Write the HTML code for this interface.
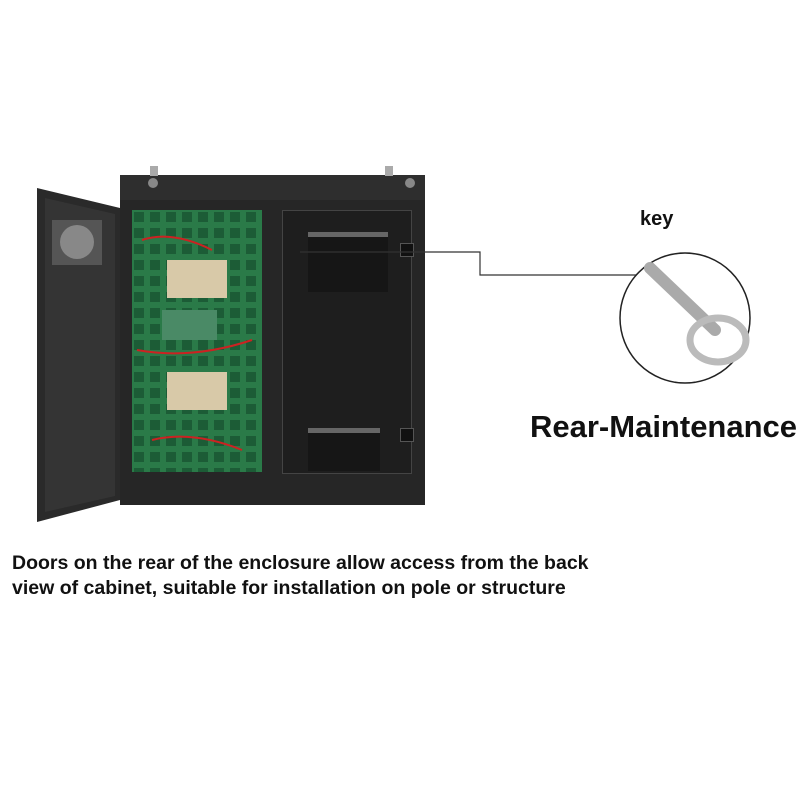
<!DOCTYPE html>
<html><head><meta charset="utf-8"><style>
body{margin:0;width:800px;height:800px;background:#fff;position:relative;overflow:hidden;font-family:"Liberation Sans",sans-serif}
.a{position:absolute}
</style></head><body>
<div class="a" style="left:120px;top:175px;width:305px;height:25px;background:#2e2e2e"></div>
<div class="a" style="left:148px;top:178px;width:10px;height:10px;border-radius:50%;background:#888"></div>
<div class="a" style="left:405px;top:178px;width:10px;height:10px;border-radius:50%;background:#888"></div>
<div class="a" style="left:150px;top:166px;width:8px;height:10px;background:#aaa"></div>
<div class="a" style="left:385px;top:166px;width:8px;height:10px;background:#aaa"></div>
<div class="a" style="left:120px;top:200px;width:305px;height:305px;background:#262626"></div>
<div class="a" style="left:132px;top:210px;width:130px;height:262px;background:#1f5a3a"></div>
<svg class="a" style="left:132px;top:210px" width="130" height="262">
<defs><pattern id="g" width="16" height="16" patternUnits="userSpaceOnUse"><rect width="16" height="16" fill="#2a7a48"/><rect x="2" y="2" width="10" height="10" fill="#1c5c36"/></pattern></defs>
<rect width="130" height="262" fill="url(#g)"/>
<rect x="35" y="50" width="60" height="38" fill="#d8c9a8"/>
<rect x="35" y="162" width="60" height="38" fill="#d8c9a8"/>
<rect x="30" y="100" width="55" height="30" fill="#4a8a66"/>
<path d="M10 30 Q40 20 80 40 M5 140 Q60 150 120 130 M20 230 Q60 220 110 240" stroke="#c22" stroke-width="2" fill="none"/>
</svg>
<div class="a" style="left:282px;top:210px;width:128px;height:262px;background:#1e1e1e;border:1px solid #444"></div>
<div class="a" style="left:308px;top:232px;width:80px;height:55px;background:#161616;border-top:5px solid #666"></div>
<div class="a" style="left:308px;top:428px;width:72px;height:38px;background:#161616;border-top:5px solid #666"></div>
<div class="a" style="left:400px;top:243px;width:12px;height:12px;background:#111;border:1px solid #555"></div>
<div class="a" style="left:400px;top:428px;width:12px;height:12px;background:#111;border:1px solid #555"></div>
<svg class="a" style="left:30px;top:180px" width="100" height="350">
<polygon points="7,8 90,28 90,320 7,342" fill="#2a2a2a"/>
<polygon points="15,18 85,34 85,316 15,332" fill="#343434"/>
<rect x="22" y="40" width="50" height="45" fill="#555"/>
<circle cx="47" cy="62" r="17" fill="#888"/>
</svg>
<svg class="a" style="left:0;top:0" width="800" height="800">
<polyline points="300,252 480,252 480,275 655,275" fill="none" stroke="#333" stroke-width="1.2"/>
<circle cx="685" cy="318" r="65" fill="#fff" stroke="#222" stroke-width="1.5"/>
<line x1="650" y1="268" x2="715" y2="330" stroke="#aaa" stroke-width="12" stroke-linecap="round"/>
<ellipse cx="718" cy="340" rx="28" ry="22" fill="none" stroke="#bbb" stroke-width="7"/>
</svg>
<div class="a" style="left:640px;top:208px;font-size:20px;font-weight:bold;color:#111">key</div>
<div class="a" style="left:530px;top:409px;font-size:31px;font-weight:bold;color:#111">Rear-Maintenance</div>
<div class="a" style="left:12px;top:551px;font-size:19.5px;font-weight:bold;color:#111;line-height:25px;white-space:nowrap">Doors on the rear of the enclosure allow access from the back<br>view of cabinet, suitable for installation on pole or structure</div>
</body></html>
